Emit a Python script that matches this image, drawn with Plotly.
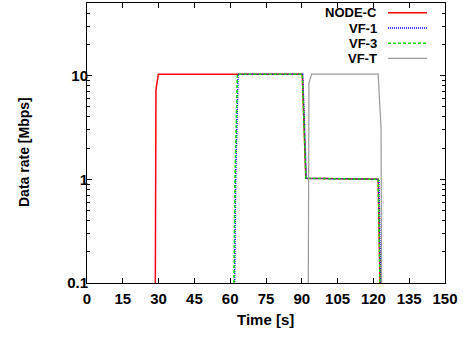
import plotly.graph_objects as go

# ---- data ----
series_names = ["NODE-C", "VF-1", "VF-3", "VF-T"]

node_c_time = [27.9, 28.9, 29.9, 90.2, 91.7, 122.0, 123.0, 124.0]
node_c_rate = [1e-6, 7.3, 10.3, 10.3, 1.02, 1.0, 0.05, 1e-6]

vf1_time = [61.3, 62.3, 63.3, 90.4, 91.9, 122.3, 123.3, 124.3]
vf1_rate = [0.005, 1.0, 10.3, 10.3, 1.02, 1.0, 0.05, 1e-6]

vf3_time = [61.0, 62.0, 63.0, 90.2, 91.7, 122.0, 123.0, 124.0]
vf3_rate = [0.005, 1.0, 10.3, 10.3, 1.02, 1.0, 0.05, 1e-6]

vft_time = [92.0, 93.0, 94.1, 122.0, 123.2, 124.2]
vft_rate = [1e-6, 8.4, 10.3, 10.3, 3.1, 1e-6]

x_ticks = [0, 15, 30, 45, 60, 75, 90, 105, 120, 135, 150]
y_ticks = [0.1, 1, 10]
y_tick_labels = ["0.1", "1", "10"]
y_minor = [0.2, 0.3, 0.4, 0.5, 0.6, 0.7, 0.8, 0.9,
           2, 3, 4, 5, 6, 7, 8, 9, 20, 30, 40, 50]

colors = ["#ff0000", "#0000ff", "#00dd00", "#999999"]
dashes = ["solid", "1px,1px", "3px,2px", "solid"]
widths = [1.5, 1.5, 1.5, 1.2]

FONT = "Liberation Sans"

fig = go.Figure()
data = [(node_c_time, node_c_rate), (vf1_time, vf1_rate),
        (vf3_time, vf3_rate), (vft_time, vft_rate)]
for name, (t, r), c, d, w in zip(series_names, data, colors, dashes, widths):
    fig.add_trace(go.Scatter(
        x=t, y=r, name=name, mode="lines",
        line=dict(color=c, width=w, dash=d),
        showlegend=False))

# custom gnuplot-style key: right-aligned text, sample line on the right
PL, PR, PT, PB = 87, 445, 3, 283
def px_x(px):
    return (px - PL) / (PR - PL)
def px_y(py):
    return (PB - py) / (PB - PT)

annotations = []
shapes = []
for i, (name, c, d, w) in enumerate(zip(series_names, colors, dashes, widths)):
    yy = px_y(12.8 + 15.2 * i)
    annotations.append(dict(
        x=px_x(378.5), y=yy, xref="paper", yref="paper",
        text=name, showarrow=False, xanchor="right", yanchor="middle",
        font=dict(family=FONT, size=13, color="black", weight="bold")))
    shapes.append(dict(
        type="line", xref="paper", yref="paper",
        x0=px_x(388), x1=px_x(427), y0=yy, y1=yy,
        line=dict(color=c, width=w, dash=d)))

annotations.append(dict(
    x=0, y=px_y(152), xref="paper", yref="paper",
    text="Data rate [Mbps]", textangle=-90, showarrow=False,
    xanchor="center", yanchor="middle", xshift=24 - PL,
    font=dict(family=FONT, size=14, color="black", weight="bold")))
annotations.append(dict(
    x=px_x(265.5), y=0, xref="paper", yref="paper",
    text="Time [s]", showarrow=False, xanchor="center", yanchor="middle",
    yshift=-(319 - PB),
    font=dict(family=FONT, size=15, color="black", weight="bold")))

fig.update_layout(
    width=463, height=337,
    margin=dict(l=PL, r=463 - PR, t=PT, b=337 - PB, autoexpand=False),
    plot_bgcolor="white", paper_bgcolor="white",
    annotations=annotations, shapes=shapes,
    font=dict(family=FONT, size=15, color="black"),
)

fig.update_xaxes(
    range=[0, 150], tickvals=x_ticks, ticks="inside", ticklen=5,
    tickcolor="black", showline=True, linecolor="black", linewidth=1,
    mirror="ticks", showgrid=False, zeroline=False, automargin=False,
    ticklabelstandoff=2,
    tickfont=dict(family=FONT, size=15, color="black", weight="bold"),
)
fig.update_yaxes(
    type="log", range=[-1, 1.69897], tickvals=y_ticks, ticktext=y_tick_labels,
    ticks="inside", ticklen=5, tickcolor="black", showline=True,
    linecolor="black", linewidth=1, mirror="ticks", showgrid=False,
    zeroline=False, automargin=False, ticklabelstandoff=-5,
    minor=dict(tickvals=y_minor, ticks="inside", ticklen=3,
               tickcolor="black", showgrid=False),
    tickfont=dict(family=FONT, size=15, color="black", weight="bold"),
)

fig.write_html("out.html",
               config={"displayModeBar": False},
               post_script="document.body.style.margin='0';")
